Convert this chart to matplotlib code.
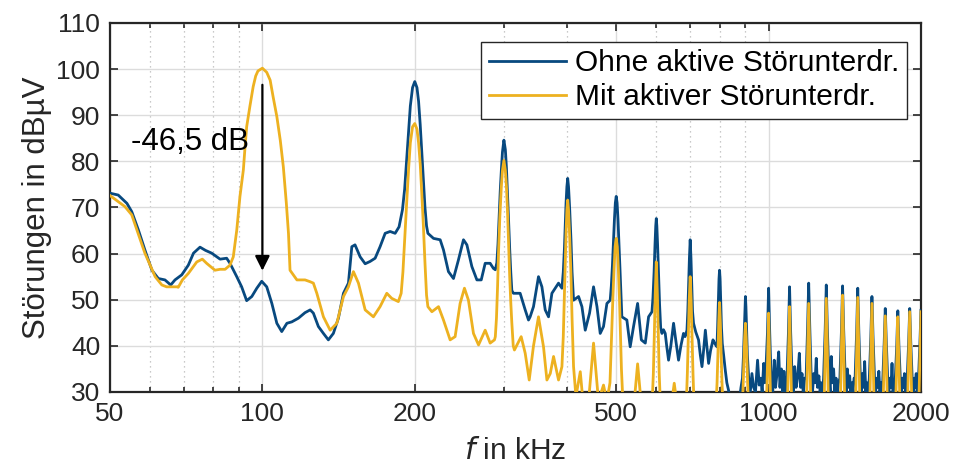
import matplotlib
matplotlib.use('Agg')
from matplotlib import pyplot as plt

# Ohne aktive Stoerunterdrueckung (blau)
f_ohne = [50, 51.9, 54, 55.2, 56.9, 58.6, 60.5, 62.3, 64.2, 65.9, 67.2, 69.3, 71.4, 73.1, 75.3, 77.2,
          79.4, 82.5, 85, 86.3, 89, 91, 93.1, 95.3, 97.5, 99.7, 102, 104.4, 106.8, 109.2, 111.8,
          114.3, 117.8, 121.4, 124.3, 126.1, 129, 132, 135, 138.1, 141.3, 144.6, 147.9, 150.2,
          152.4, 156, 159.6, 163.2, 167, 170.8, 174.8, 178.8, 182.9, 186.2,
          189.1, 191, 192.9, 194.5, 196, 198, 200, 202, 203.5, 205, 206.5, 208, 209.5, 211, 212.3,
          217.8, 224.5, 227.9, 233.1, 238.5, 243.9, 249.6, 253.5,
          259.3, 265.3, 270.6, 275.5, 281.8, 286, 288.5,
          290.5, 292, 293.5, 295, 296.5, 298, 300, 302, 303.5, 305, 306.5, 308, 309.5, 311,
          313.3, 323, 330.5, 335.5, 338, 343.2, 351.1, 356.6, 362, 367.5, 373.2, 378.8, 384.6,
          390.6, 393, 395, 396.5, 398, 399.5, 401, 402.5, 404.5, 407, 409, 411.8,
          421.3, 427.8, 434.3, 442.9, 451, 458.1, 464.9, 471.9, 479.3,
          486.5, 489, 491.5, 494, 496, 498, 500, 502, 504, 506, 508.5, 511, 513,
          524.8, 532.8, 541, 551.1, 560.5, 570.7, 579.3,
          588.3, 591, 594, 596.5, 598.5, 600, 601.5, 603.5, 606, 609, 612, 615.6,
          620, 624.9, 629, 634.4, 641, 649, 656, 663.9, 671, 679, 684,
          689.8, 692.5, 695, 697.5, 700, 702.5, 705, 707.5, 710.7,
          718, 727.1, 733, 738.6, 744, 750, 755, 761.2, 768, 776.5, 783,
          790.6, 793, 795.5, 798, 800, 802, 804.5, 807, 810, 815, 821, 827, 833.4, 840,
          875, 882, 888, 892, 895, 898, 900, 902, 905, 908, 913,
          920, 927, 934, 942, 951, 958, 965, 971, 978, 983,
          988, 995, 1000, 1005, 1012,
          1019, 1026, 1032, 1039, 1047, 1053, 1060, 1066, 1072, 1079,
          1087, 1094.5, 1100, 1105.5, 1113,
          1119, 1126, 1133, 1141, 1150, 1157, 1164, 1171, 1178,
          1186, 1194, 1200, 1206, 1214,
          1221, 1228, 1235, 1242, 1249, 1257, 1264, 1271, 1278,
          1284, 1293.5, 1300, 1306.5, 1316,
          1323, 1330, 1337, 1344, 1351, 1359, 1366, 1374,
          1383, 1393, 1400, 1407, 1417,
          1424, 1431, 1438, 1446, 1453, 1461, 1468, 1475,
          1482, 1492.5, 1500, 1507.5, 1518,
          1525, 1533, 1540, 1548, 1556, 1564, 1572,
          1581, 1592, 1600, 1608, 1619,
          1627, 1635, 1643, 1651, 1659, 1667, 1674,
          1680, 1691.5, 1700, 1708.5, 1720,
          1728, 1737, 1745, 1753, 1761, 1769,
          1778, 1791, 1800, 1809, 1822,
          1830, 1839, 1847, 1855, 1863, 1871,
          1877, 1890.5, 1900, 1909.5, 1923,
          1931, 1940, 1948, 1957, 1965, 1972,
          1976, 1990, 2000]
v_ohne = [73.1, 72.7, 70.9, 69.1, 65.1, 60.8, 56.4, 54.6, 54.3, 53.2, 54.3, 55.4, 57.5, 60.1, 61.4, 60.7,
          60.1, 58.8, 59.0, 57.9, 55.0, 52.8, 49.8, 50.7, 52.5, 54.0, 52.8, 49.2, 44.9, 43.1, 44.9,
          45.2, 46.0, 47.2, 47.8, 47.1, 44.2, 42.7, 41.3, 42.7, 46.0, 51.4, 53.6, 61.5,
          61.9, 59.3, 57.8, 58.3, 59.0, 61.5, 64.4, 64.8, 64.4, 65.8,
          69.5, 74, 81, 87, 92, 96, 97.3, 96, 93, 88, 82, 76, 70, 66, 64.4,
          63.3, 63.0, 60.8, 56.1, 54.6, 58.6, 63.0, 61.9,
          57.2, 54.3, 54.3, 57.9, 57.9, 56.8, 56.5,
          58, 62, 68, 73.5, 78, 82, 84.6, 82.5, 78.5, 73, 67, 61, 56, 52,
          51.4, 51.4, 47.8, 45.6, 46.3, 48.5, 55.0, 52.8, 47.8, 46.3, 51.4, 52.5, 53.6,
          52.5, 56, 61, 65.8, 71, 74.5, 76.3, 74.5, 70, 63, 56, 49.9,
          50.7, 48.5, 43.4, 47.1, 52.8, 48.5, 42.7, 44.2, 49.2,
          49.9, 53, 57.5, 63, 67.5, 71, 72.4, 71, 67.5, 63, 57, 51, 46.3,
          45.6, 39.8, 44.2, 49.2, 41.3, 40.6, 46.3,
          47.4, 50.5, 56, 62, 66, 67.6, 66, 62, 56, 49, 44, 42.7,
          43.5, 42.7, 40, 36.9, 40, 44.9, 41, 36.9, 40, 42.7, 42,
          43.4, 47.5, 53, 59, 63.0, 59, 53, 47.5, 44.9,
          43, 41.3, 38, 35.5, 39, 43.4, 40, 36.2, 39, 41.3, 40.5,
          39.8, 44, 49.5, 54.5, 56.4, 54.5, 49.5, 44, 40.5, 38, 34.8, 32, 30.4, 28,
          28, 31, 33, 38, 43, 48.5, 50.7, 48.5, 43, 38, 33.3,
          30, 34, 31, 30, 36.9, 31.5, 33, 30, 36.2, 32,
          35, 43, 52.5, 43, 32,
          30, 36.9, 31, 34, 38.7, 31, 35, 30, 34.5, 29.5,
          33, 43, 52.8, 43, 33,
          30, 35.5, 31, 33, 38.4, 31, 34, 29.5, 33,
          33, 44, 53.6, 44, 33,
          30, 34, 32, 37.3, 31, 33.5, 30, 32, 29.5,
          33, 43.5, 53.2, 43.5, 33,
          30, 37.7, 32, 35, 30, 33, 29.5, 32,
          33, 43.5, 53.0, 43.5, 33,
          30, 35, 31, 33.5, 29.5, 32, 30, 33,
          33, 43, 52.5, 43, 33,
          30, 34, 31, 36.6, 30, 32, 29.5,
          33, 42, 50.7, 42, 33,
          30, 33, 31, 34.5, 30, 32, 29.5,
          32, 40.5, 48.1, 40.5, 32,
          30, 33, 31, 36.2, 30, 32,
          32, 40, 47.6, 40, 32,
          30, 33, 31, 34, 30, 32,
          32, 40.5, 48.1, 40.5, 32,
          30, 33, 31, 34, 30, 32,
          32, 40.5, 47.7]

# Mit aktiver Stoerunterdrueckung (gelb)
f_mit = [50, 53.5, 55.2, 58.6, 61.4, 63.3, 64.7, 67.8, 68.2, 69.5, 71.4, 74.2, 76.1, 77.6, 80.6,
         82.5, 84.4, 86.3, 87.6, 89, 90.3, 91.7, 92.4, 93.1, 94.5, 95.9, 97, 98, 100, 102, 103.6,
         105, 106.8, 108.5, 110, 111.5, 112.6,
         113.4, 117, 121.4, 124.3, 126.1, 128.1, 132, 136.1, 140.3, 144.6, 147.9, 151.3, 154.8,
         159.6, 165.7, 170.8, 176.1, 180.1, 185.6, 188, 189.5, 191, 192.9, 194.5, 196, 198, 200,
         202, 203.5, 205, 206.5, 208, 209.5, 211, 212.3, 216.2, 222.8, 227.9, 234.9, 240.3, 245.8,
         250.7, 255.3, 261.2, 267.3, 275.5, 281.8, 287.4, 288.5, 290, 291.5, 292.7, 294.5, 296.5,
         298, 300, 302, 303.5, 305, 306.5, 308, 309.5, 311, 313, 314.7, 324.5,
         330.5, 336.6, 343.2, 351.1, 359.2, 364.8, 370.4, 376, 384.6,
         390.6, 393, 395, 396.5, 398, 399.5, 401, 402.5, 404.5, 407, 409, 411.8,
         416.3, 424.6, 429.8, 440.9, 451, 461.3, 471.9, 479.3,
         486, 488, 490.3, 492.5, 495, 497.5, 500, 502.5, 505, 507.5, 509.5, 512, 515.4,
         542.8, 551.1, 559.7,
         589, 592, 594.5, 597, 600, 603, 605.5, 608, 611, 644, 651, 658,
         688, 691, 694, 697, 700, 703, 706, 709, 712,
         788, 791, 794, 797, 800, 803, 806, 809, 812,
         888, 891, 894, 897, 900, 903, 906, 909, 912,
         990, 995.5, 1000, 1004.5, 1010, 1089, 1095, 1100, 1105, 1111,
         1188, 1194.5, 1200, 1205.5, 1212, 1287, 1294, 1300, 1306, 1313,
         1386, 1393.5, 1400, 1406.5, 1414, 1485, 1493, 1500, 1507, 1515,
         1584, 1593, 1600, 1607, 1616, 1683, 1692, 1700, 1708, 1717,
         1782, 1792, 1800, 1808, 1818, 1881, 1891, 1900, 1909, 1919,
         1980, 1991, 2000]
v_mit = [72.6, 70.2, 68.4, 60.1, 55.0, 53.2, 52.8, 52.8, 52.7, 54.3, 55.7, 58.2, 58.8, 57.9, 56.4,
         56.6, 56.6, 57.5, 59.3, 65.1, 72.4, 78.1, 83, 87.5, 92, 96.2, 98.5, 99.6, 100.2, 99.3, 97.6,
         94, 89.7, 84.5, 78.8, 71, 64.4,
         56.4, 54.3, 54.3, 53.9, 53.6, 51.4, 46.3, 43.4, 44.9, 50.7, 52.8, 56.1, 53.6,
         47.8, 46.3, 48.5, 51.4, 50.3, 49.6, 51.4, 56, 63, 71.6, 78.5, 84, 87.5, 88.2,
         87, 84, 79.5, 73, 66, 58, 51, 48.5, 47.4, 48.5, 45.6, 41.3, 42.0, 49.2,
         52.5, 49.9, 42.7, 40.2, 43.4, 40.6, 41.3, 42, 46, 53, 60.1, 68, 74.5,
         78, 80.2, 78, 74.5, 69, 62, 55, 49.5, 45, 40, 39.1, 42.0,
         38.4, 32.6, 40, 46.3, 39.8, 32.6, 34.0, 37.7, 32.6,
         35.5, 42, 51, 58.6, 64.5, 69.5, 71.6, 69.5, 64, 55.5, 46, 35.5,
         29, 34.4, 28, 28, 40.6, 28, 31.5, 28,
         32, 38, 44.2, 50.5, 56.5, 61.5, 63.3, 61.5, 56.5, 50, 43, 35, 28,
         28, 36.1, 28,
         28, 34, 42, 51, 58.2, 51, 42, 34, 28, 28, 31.9, 28,
         28, 34, 42, 50, 55.0, 50, 42, 34, 28,
         28, 32, 38, 45, 49.4, 45, 38, 32, 28,
         28, 32, 37, 42, 44.9, 42, 37, 32, 28,
         27, 37, 47.1, 37, 27, 27, 38, 48.5, 38, 27,
         27, 39, 49.2, 39, 27, 27, 40, 50.3, 40, 27,
         27, 41, 51.0, 41, 27, 27, 40, 50.5, 40, 27,
         27, 39, 49.2, 39, 27, 27, 37, 46.5, 37, 27,
         27, 37, 46.3, 37, 27, 27, 38, 47.4, 38, 27,
         27, 38, 47.4]

x_ticks = [50, 100, 200, 500, 1000, 2000]
x_minor = [60, 70, 80, 90, 300, 400, 600, 700, 800, 900]
y_ticks = [30, 40, 50, 60, 70, 80, 90, 100, 110]

plt.rcParams['font.family'] = ['Liberation Sans', 'DejaVu Sans']

fig = plt.figure(figsize=(9.54, 4.68), dpi=100)
ax = fig.add_axes([0.1153, 0.1624, 0.8501, 0.7885])

ax.plot(f_ohne, v_ohne, color='#08497F', lw=2.0, label='Ohne aktive Störunterdr.', zorder=3)
ax.plot(f_mit, v_mit, color='#EDB120', lw=2.0, label='Mit aktiver Störunterdr.', zorder=4)

ax.set_xscale('log')
ax.set_xlim(50, 2000)
ax.set_ylim(30, 110)
ax.set_xticks(x_ticks)
ax.set_xticklabels([str(t) for t in x_ticks])
ax.set_xticks(x_minor, minor=True)
ax.set_xticklabels([], minor=True)
ax.set_yticks(y_ticks)

ax.grid(True, which='major', color='#dcdcdc', lw=1, zorder=0)
ax.grid(True, which='minor', axis='x', color='#b8b8b8', lw=0.9, ls=(0, (1, 3)), zorder=0)
ax.set_axisbelow(True)

ax.tick_params(which='both', direction='in', top=True, right=True, colors='#262626',
               labelsize=19, width=1.2)
ax.tick_params(which='major', length=5.5, pad=7)
ax.tick_params(which='minor', length=3.5)
for s in ax.spines.values():
    s.set_color('#262626')
    s.set_linewidth(1.6)

ax.set_xlabel('$f$ in kHz', fontsize=21.5, color='#262626', labelpad=8)
ax.set_ylabel('Störungen in dBµV', fontsize=22.5, color='#262626', labelpad=3)

ax.annotate('', xy=(100, 56.3), xytext=(100, 96.6),
            arrowprops=dict(arrowstyle='-|>', color='black', lw=1.6,
                            mutation_scale=22, shrinkA=0, shrinkB=0), zorder=5)
ax.text(72, 84.2, '-46,5 dB', fontsize=22.5, ha='center', va='center', color='black', zorder=5)

leg = ax.legend(loc='upper right', bbox_to_anchor=(0.983, 0.949), borderaxespad=0,
                fontsize=21.5, frameon=True, fancybox=False, framealpha=1,
                handlelength=2.6, handletextpad=0.3, labelspacing=0.2, borderpad=0.25)
leg.get_frame().set_edgecolor('#262626')
leg.get_frame().set_linewidth(1.0)

fig.savefig('out.png', dpi=100)
